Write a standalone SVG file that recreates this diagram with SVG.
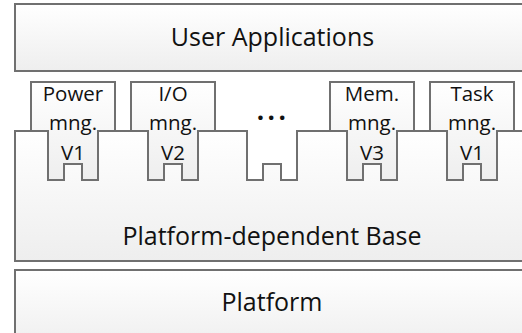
<svg xmlns="http://www.w3.org/2000/svg" xmlns:xlink="http://www.w3.org/1999/xlink" width="522" height="333" viewBox="0 0 522 333">
  <defs>
    <linearGradient id="shade" x1="0" y1="0" x2="0" y2="1">
      <stop offset="0" stop-color="#ffffff"/>
      <stop offset="1" stop-color="#eeeeee"/>
    </linearGradient>
    <!-- module outline, centred on x=0: header box plus a notched tab -->
    <path id="module-shape" d="M-42,82 H42 V131 H25 V180 H9 V164 H-9 V180 H-25 V131 H-42 Z"/>
  </defs>
  <style>
    .layer { fill: url(#shade); stroke: #707070; stroke-width: 2; }
    .label { font-family: "Open Sans", "Noto Sans", sans-serif; fill: #111111; text-anchor: middle; }
    .big { font-size: 25px; }
    .small { font-size: 20.5px; }
  </style>

  <rect width="522" height="333" fill="#ffffff"/>

  <g id="user-applications">
    <rect class="layer" x="15" y="4" width="520" height="67"/>
    <text class="label big" x="272.5" y="46">User Applications</text>
  </g>

  <g id="platform-dependent-base">
    <path class="layer" d="M15,261 V131 H48 V180 H64 V164 H82 V180 H98 V131 H148 V180 H164 V164 H182 V180 H198 V131 H247 V180 H263 V164 H281 V180 H297 V131 H347 V180 H363 V164 H381 V180 H397 V131 H447 V180 H463 V164 H481 V180 H497 V131 H535 V261 Z"/>
    <text class="label big" x="272" y="245">Platform-dependent Base</text>
  </g>

  <g id="platform">
    <rect class="layer" x="15" y="270" width="520" height="80"/>
    <text class="label big" x="272" y="311">Platform</text>
  </g>

  <g id="power-mng">
    <use xlink:href="#module-shape" class="layer" x="73"/>
    <text class="label small" x="73" y="101">Power</text>
    <text class="label small" x="73" y="130">mng.</text>
    <text class="label small" x="73" y="160">V1</text>
  </g>

  <g id="io-mng">
    <use xlink:href="#module-shape" class="layer" x="173"/>
    <text class="label small" x="173" y="101">I/O</text>
    <text class="label small" x="173" y="130">mng.</text>
    <text class="label small" x="173" y="160">V2</text>
  </g>

  <g id="more-modules">
    <text class="label" x="273" y="120" font-size="26" font-weight="bold" letter-spacing="3.5">...</text>
  </g>

  <g id="mem-mng">
    <use xlink:href="#module-shape" class="layer" x="372"/>
    <text class="label small" x="372" y="101">Mem.</text>
    <text class="label small" x="372" y="130">mng.</text>
    <text class="label small" x="372" y="160">V3</text>
  </g>

  <g id="task-mng">
    <use xlink:href="#module-shape" class="layer" x="472"/>
    <text class="label small" x="472" y="101">Task</text>
    <text class="label small" x="472" y="130">mng.</text>
    <text class="label small" x="472" y="160">V1</text>
  </g>

  <g id="connectors"/>
</svg>
